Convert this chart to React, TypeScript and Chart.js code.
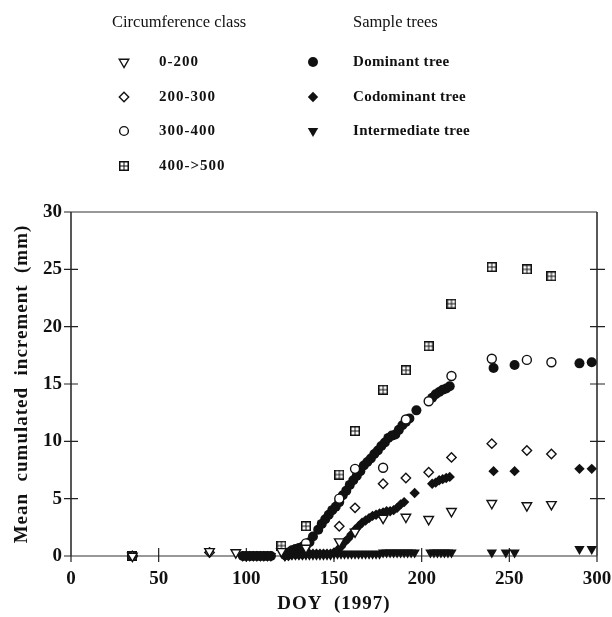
import React, { useEffect, useRef } from "react";
import { Chart, registerables } from "chart.js";

Chart.register(...registerables);

// ---------- axis ticks ----------
const X_TICKS = [0, 50, 100, 150, 200, 250, 300];
const Y_TICKS = [0, 5, 10, 15, 20, 25, 30];

// ---------- circumference classes (open symbols) ----------
const c0to200Days = [35, 79, 94, 120, 134, 153, 162, 178, 191, 204, 217, 240, 260, 274];
const c0to200Vals = [0, 0.4, 0.3, 0.4, 0.7, 1.25, 2.1, 3.3, 3.4, 3.2, 3.9, 4.6, 4.4, 4.5];

const c200to300Days = [35, 79, 153, 162, 178, 191, 204, 217, 240, 260, 274];
const c200to300Vals = [0, 0.3, 2.6, 4.2, 6.3, 6.8, 7.3, 8.6, 9.8, 9.2, 8.9];

const c300to400Days = [35, 134, 153, 162, 178, 191, 204, 217, 240, 260, 274];
const c300to400Vals = [0, 1.1, 5.0, 7.6, 7.7, 11.9, 13.5, 15.7, 17.2, 17.1, 16.9];

const c400to500Days = [35, 120, 134, 153, 162, 178, 191, 204, 217, 240, 260, 274];
const c400to500Vals = [0, 0.9, 2.6, 7.1, 10.9, 14.5, 16.2, 18.3, 22.0, 25.2, 25.0, 24.4];

// ---------- sample trees (filled symbols) ----------
const dominantDays = [
  35, 98, 100, 102, 104, 106, 108, 110, 112, 114,
  122, 124, 126, 128, 130, 132, 134, 136, 138,
  141, 143, 145, 147, 149, 151, 153, 155, 157, 159, 161, 163, 165, 167, 169, 171,
  173, 175, 177, 179, 181, 183, 185, 187, 189, 191, 193, 197,
  206, 208, 210, 212, 214, 216, 241, 253, 290, 297,
];
const dominantVals = [
  0, 0, 0, 0, 0, 0, 0, 0, 0, 0,
  0.1, 0.3, 0.5, 0.6, 0.7, 0.8, 0.9, 1.2, 1.7,
  2.3, 2.8, 3.2, 3.6, 4.0, 4.3, 4.7, 5.3, 5.7, 6.2, 6.6, 7.0, 7.4, 7.9, 8.2, 8.5,
  8.9, 9.2, 9.6, 9.9, 10.3, 10.5, 10.6, 11.0, 11.4, 11.7, 12.0, 12.7,
  13.8, 14.1, 14.3, 14.5, 14.6, 14.8, 16.4, 16.65, 16.8, 16.9,
];

const codominantDays = [
  35, 98, 100, 102, 104, 106, 108, 110, 112, 114,
  122, 124, 126, 128, 130, 132, 134, 136, 138, 140, 142, 144, 146, 148,
  150, 152, 154, 156, 158, 160, 162, 164, 166, 168, 170, 172, 174, 176, 178, 180,
  182, 184, 186, 188, 190, 196,
  206, 208, 210, 212, 214, 216, 241, 253, 290, 297,
];
const codominantVals = [
  0, 0, 0, 0, 0, 0, 0, 0, 0, 0,
  0, 0, 0.1, 0.1, 0.1, 0.1, 0.2, 0.2, 0.2, 0.2, 0.2, 0.2, 0.2, 0.2,
  0.3, 0.5, 0.8, 1.2, 1.5, 1.9, 2.3, 2.6, 2.9, 3.1, 3.3, 3.5, 3.6, 3.7, 3.8, 3.9,
  3.9, 4.0, 4.2, 4.5, 4.7, 5.5,
  6.3, 6.4, 6.6, 6.7, 6.8, 6.9, 7.4, 7.4, 7.6, 7.6,
];

const intermediateDays = [
  35, 98, 100, 102, 104, 106, 108, 110, 112, 114,
  122, 124, 126, 128, 130, 132, 134, 136, 138, 140, 142, 144, 146, 148,
  150, 152, 154, 156, 158, 160, 162, 164, 166, 168, 170, 172, 174, 176, 178, 180,
  182, 184, 186, 188, 190, 192, 194, 196,
  205, 207, 209, 211, 213, 215, 217, 240, 248, 253, 290, 297,
];
const intermediateVals = [
  0, 0, 0, 0, 0, 0, 0, 0, 0, 0,
  0, 0.1, 0.1, 0.1, 0.1, 0.1, 0.1, 0.1, 0.1, 0.1, 0.1, 0.1, 0.1, 0.1,
  0.2, 0.2, 0.2, 0.2, 0.2, 0.2, 0.2, 0.2, 0.2, 0.2, 0.2, 0.2, 0.2, 0.2, 0.3, 0.3,
  0.3, 0.3, 0.3, 0.3, 0.3, 0.3, 0.3, 0.3,
  0.3, 0.3, 0.3, 0.3, 0.3, 0.3, 0.3, 0.3, 0.3, 0.3, 0.6, 0.6,
];

const INK = "#111";
const SERIF = '"Liberation Serif", "Times New Roman", serif';

function pts(days: number[], vals: number[]) {
  return days.map((d, i) => ({ x: d, y: vals[i] }));
}

function makeBoxImage(): HTMLCanvasElement {
  const c = document.createElement("canvas");
  c.width = 10;
  c.height = 10;
  const g = c.getContext("2d")!;
  g.fillStyle = INK;
  g.fillRect(0, 0, 10, 10);
  g.fillStyle = "#fff";
  g.fillRect(1.5, 1.5, 3, 3);
  g.fillRect(5.5, 1.5, 3, 3);
  g.fillRect(1.5, 5.5, 3, 3);
  g.fillRect(5.5, 5.5, 3, 3);
  return c;
}

type Kind = "triOpen" | "diaOpen" | "circOpen" | "box" | "circFill" | "diaFill" | "triFill";

function drawSymbol(ctx: CanvasRenderingContext2D, kind: Kind, x: number, y: number, boxImg: HTMLCanvasElement) {
  ctx.save();
  ctx.lineWidth = 1.4;
  ctx.strokeStyle = INK;
  ctx.fillStyle = INK;
  const tri = (r: number) => {
    ctx.beginPath();
    let a = Math.PI;
    for (let i = 0; i < 3; i++) {
      const px = x + Math.sin(a) * r;
      const py = y - Math.cos(a) * r;
      if (i === 0) ctx.moveTo(px, py);
      else ctx.lineTo(px, py);
      a += (2 * Math.PI) / 3;
    }
    ctx.closePath();
  };
  const dia = (r: number) => {
    ctx.beginPath();
    ctx.moveTo(x - r, y);
    ctx.lineTo(x, y - r);
    ctx.lineTo(x + r, y);
    ctx.lineTo(x, y + r);
    ctx.closePath();
  };
  const circ = (r: number) => {
    ctx.beginPath();
    ctx.arc(x, y, r, 0, Math.PI * 2);
  };
  if (kind === "triOpen") { tri(5.5); ctx.fillStyle = "#fff"; ctx.fill(); ctx.stroke(); }
  if (kind === "diaOpen") { dia(4.7); ctx.fillStyle = "#fff"; ctx.fill(); ctx.stroke(); }
  if (kind === "circOpen") { circ(4.4); ctx.fillStyle = "#fff"; ctx.fill(); ctx.stroke(); }
  if (kind === "box") { ctx.drawImage(boxImg, x - 5, y - 5); }
  if (kind === "circFill") { circ(5); ctx.fill(); }
  if (kind === "diaFill") { dia(5.2); ctx.fill(); }
  if (kind === "triFill") { tri(6); ctx.fill(); }
  ctx.restore();
}

const LEGEND_LEFT: [Kind, string][] = [
  ["triOpen", "0-200"],
  ["diaOpen", "200-300"],
  ["circOpen", "300-400"],
  ["box", "400->500"],
];
const LEGEND_RIGHT: [Kind, string][] = [
  ["circFill", "Dominant tree"],
  ["diaFill", "Codominant tree"],
  ["triFill", "Intermediate tree"],
];
const LEGEND_ROWS = [62, 97, 131, 166];

export default function App() {
  const ref = useRef<HTMLCanvasElement>(null);

  useEffect(() => {
    const canvas = ref.current!;
    const boxImg = makeBoxImage();

    const framePlugin = {
      id: "frame",
      beforeDatasetsDraw(chart: any) {
        const { ctx, chartArea: a, scales } = chart;
        const xs = scales.x;
        const ys = scales.y;
        ctx.save();
        ctx.strokeStyle = "#222";
        ctx.lineWidth = 1.5;
        ctx.beginPath();
        ctx.moveTo(a.left, a.top);
        ctx.lineTo(a.left, a.bottom);
        ctx.moveTo(a.right, a.top);
        ctx.lineTo(a.right, a.bottom);
        ctx.stroke();
        ctx.lineWidth = 1.2;
        ctx.strokeStyle = "#333";
        ctx.beginPath();
        ctx.moveTo(a.left, a.top);
        ctx.lineTo(a.right, a.top);
        ctx.moveTo(a.left, a.bottom);
        ctx.lineTo(a.right, a.bottom);
        ctx.stroke();
        ctx.lineWidth = 1.2;
        ctx.strokeStyle = "#222";
        ctx.beginPath();
        Y_TICKS.forEach((v) => {
          const py = ys.getPixelForValue(v);
          ctx.moveTo(a.left - 7, py);
          ctx.lineTo(v === 0 || v === 30 ? a.left : a.left + 7, py);
          if (v !== 0 && v !== 30) {
            ctx.moveTo(a.right - 7, py);
            ctx.lineTo(a.right + 8, py);
          }
        });
        X_TICKS.forEach((v) => {
          const px = xs.getPixelForValue(v);
          ctx.moveTo(px, a.bottom + 6);
          ctx.lineTo(px, v === 0 || v === 300 ? a.bottom : a.bottom - 8);
        });
        ctx.stroke();
        ctx.restore();
      },
      afterDraw(chart: any) {
        const { ctx, chartArea: a } = chart;
        ctx.save();
        ctx.fillStyle = INK;
        ctx.textBaseline = "middle";
        ctx.font = `bold 19px ${SERIF}`;
        (ctx as any).letterSpacing = "1px";
        ctx.textAlign = "center";
        ctx.fillText("DOY  (1997)", (a.left + a.right) / 2, 604);
        ctx.save();
        ctx.translate(22, (a.top + a.bottom) / 2);
        ctx.rotate(-Math.PI / 2);
        ctx.fillText("Mean  cumulated  increment  (mm)", 0, 0);
        ctx.restore();
        ctx.textAlign = "left";
        (ctx as any).letterSpacing = "0px";
        ctx.font = `16.5px ${SERIF}`;
        ctx.fillText("Circumference class", 112, 23);
        ctx.fillText("Sample trees", 353, 23);
        ctx.font = `bold 15px ${SERIF}`;
        (ctx as any).letterSpacing = "0.3px";
        LEGEND_LEFT.forEach(([k, label], i) => {
          drawSymbol(ctx, k, 124, LEGEND_ROWS[i], boxImg);
          ctx.fillStyle = INK;
          (ctx as any).letterSpacing = "1px";
          ctx.fillText(label, 159, LEGEND_ROWS[i]);
        });
        (ctx as any).letterSpacing = "0.3px";
        LEGEND_RIGHT.forEach(([k, label], i) => {
          drawSymbol(ctx, k, 313, LEGEND_ROWS[i], boxImg);
          ctx.fillStyle = INK;
          ctx.fillText(label, 353, LEGEND_ROWS[i]);
        });
        ctx.restore();
      },
    };

    const openStyle = { backgroundColor: "#fff", borderColor: INK, borderWidth: 1.4 };
    const filledStyle = { backgroundColor: INK, borderColor: INK, borderWidth: 0 };
    const tickFont = { family: SERIF, size: 19, weight: "bold" as const };

    const chart = new Chart(canvas, {
      type: "scatter",
      data: {
        datasets: [
          { label: "0-200", data: pts(c0to200Days, c0to200Vals), pointStyle: "triangle", rotation: 180, pointRadius: 5.5, ...openStyle, clip: false },
          { label: "200-300", data: pts(c200to300Days, c200to300Vals), pointStyle: "rectRot", pointRadius: 4.7, ...openStyle, clip: false },
          { label: "300-400", data: pts(c300to400Days, c300to400Vals), pointStyle: "circle", pointRadius: 4.5, ...openStyle, clip: false },
          { label: "400->500", data: pts(c400to500Days, c400to500Vals), pointStyle: boxImg, pointRadius: 5, clip: false },
          { label: "Dominant tree", data: pts(dominantDays, dominantVals), pointStyle: "circle", pointRadius: 5, ...filledStyle, clip: false },
          { label: "Codominant tree", data: pts(codominantDays, codominantVals), pointStyle: "rectRot", pointRadius: 5.2, ...filledStyle, clip: false },
          { label: "Intermediate tree", data: pts(intermediateDays, intermediateVals), pointStyle: "triangle", rotation: 180, pointRadius: 6, ...filledStyle, clip: false },
        ] as any,
      },
      options: {
        responsive: false,
        animation: false,
        layout: { padding: { top: 212, right: 15, bottom: 0, left: 0 } },
        plugins: { legend: { display: false }, tooltip: { enabled: false } },
        scales: {
          x: {
            type: "linear",
            min: 0,
            max: 300,
            grid: { display: false, drawTicks: false },
            border: { display: false },
            ticks: { stepSize: 50, font: tickFont, color: INK, padding: 12, maxRotation: 0, autoSkip: false },
            afterBuildTicks: (s: any) => { s.ticks = X_TICKS.map((v) => ({ value: v })); },
            afterFit: (s: any) => { s.height = 61; s.paddingLeft = 0; s.paddingRight = 0; },
          },
          y: {
            type: "linear",
            min: 0,
            max: 30,
            grid: { display: false, drawTicks: false },
            border: { display: false },
            ticks: { stepSize: 5, font: tickFont, color: INK, padding: 9 },
            afterBuildTicks: (s: any) => { s.ticks = Y_TICKS.map((v) => ({ value: v })); },
            afterFit: (s: any) => { s.width = 71; s.paddingTop = 0; s.paddingBottom = 0; },
          },
        },
      },
      plugins: [framePlugin],
    });

    return () => chart.destroy();
  }, []);

  return (
    <div style={{ position: "absolute", left: 0, top: 0, width: 612, height: 617, background: "#fff" }}>
      <canvas ref={ref} width={612} height={617} style={{ display: "block", width: 612, height: 617 }} />
    </div>
  );
}
